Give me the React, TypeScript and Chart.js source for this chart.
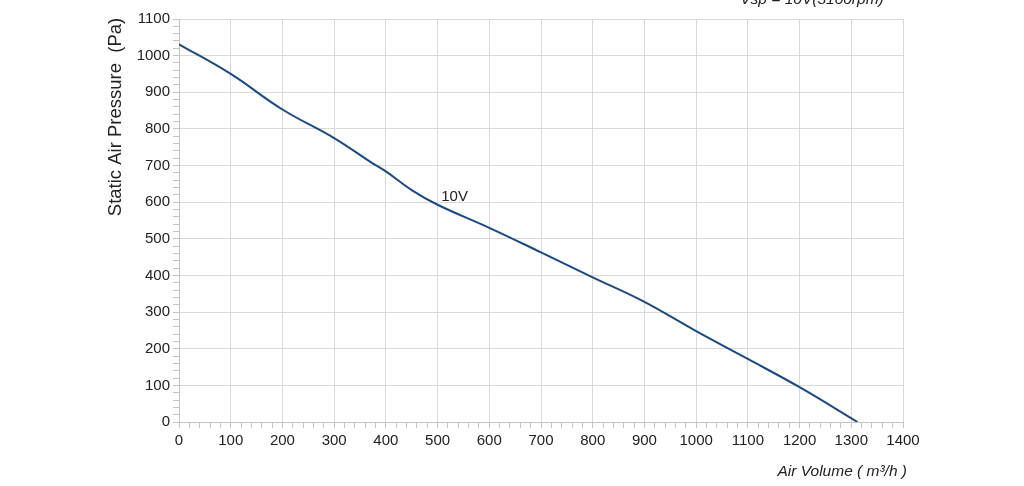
import React, { useEffect, useRef } from "react";
import { Chart, registerables } from "chart.js";

Chart.register(...registerables);

const airVolume = [0, 100, 200, 300, 370, 400, 450, 500, 600, 700, 800, 900, 1000, 1100, 1200, 1312];
const pressure = [1031, 950, 853, 775, 710, 684, 633, 593, 530, 463, 395, 328, 248, 172, 95, 0];
const seriesLabel = "10V";
const topTitle = "Vsp = 10V(3100rpm)";
const xTitle = "Air Volume ( m³/h )";
const yTitle = "Static Air Pressure  (Pa)";

const FONT = "'Liberation Sans', Arial, sans-serif";

export default function App() {
  const ref = useRef<HTMLCanvasElement | null>(null);

  useEffect(() => {
    if (!ref.current) return;
    const textPlugin = {
      id: "texts",
      afterDraw(chart: any) {
        const ctx = chart.ctx;
        const xs = chart.scales.x;
        const ys = chart.scales.y;
        ctx.save();
        ctx.fillStyle = "#222";
        ctx.font = `italic 15.5px ${FONT}`;
        ctx.textAlign = "center";
        ctx.textBaseline = "alphabetic";
        ctx.fillText(topTitle, 812, 4);
        ctx.textAlign = "right";
        ctx.fillText(xTitle, 907, 476);
        ctx.font = `15px ${FONT}`;
        ctx.textAlign = "left";
        ctx.fillText(seriesLabel, xs.getPixelForValue(507), ys.getPixelForValue(604));
        ctx.font = `18.5px ${FONT}`;
        ctx.translate(121, 117);
        ctx.rotate(-Math.PI / 2);
        ctx.textAlign = "center";
        ctx.textBaseline = "alphabetic";
        ctx.fillText(yTitle, 0, 0);
        ctx.restore();
      },
    };

    const gridColor = (c: any) => (Math.round(c.tick?.value ?? 0) % 100 === 0 ? "#d9d9d9" : "rgba(0,0,0,0)");

    const chart = new Chart(ref.current, {
      type: "line",
      data: {
        datasets: [
          {
            label: seriesLabel,
            data: airVolume.map((x, i) => ({ x, y: pressure[i] })),
            borderColor: "#1b4a82",
            borderWidth: 2,
            pointRadius: 0,
            fill: false,
            tension: 0.4,
          },
        ],
      },
      options: {
        animation: false,
        responsive: true,
        maintainAspectRatio: false,
        layout: { padding: { left: 0, top: 19, right: 121, bottom: 0 } },
        plugins: { legend: { display: false }, tooltip: { enabled: false }, title: { display: false } },
        scales: {
          x: {
            type: "linear",
            min: 0,
            max: 1400,
            afterFit(scale: any) {
              scale.height = 64;
            },
            ticks: {
              stepSize: 20,
              autoSkip: false,
              maxRotation: 0,
              padding: 4,
              color: "#222",
              font: { family: FONT, size: 15 },
              callback: (v: any) => (Math.round(v) % 100 === 0 ? String(v) : ""),
            },
            grid: { color: gridColor, tickColor: "#c4c4c4", tickLength: 6, lineWidth: 1 },
            border: { color: "#c4c4c4" },
          },
          y: {
            type: "linear",
            min: 0,
            max: 1100,
            afterFit(scale: any) {
              scale.width = 179;
            },
            ticks: {
              stepSize: 20,
              autoSkip: false,
              padding: 3,
              color: "#222",
              font: { family: FONT, size: 15 },
              callback: (v: any) => (Math.round(v) % 100 === 0 ? String(v) : ""),
            },
            grid: { color: gridColor, tickColor: "#c4c4c4", tickLength: 6, lineWidth: 1 },
            border: { color: "#c4c4c4" },
          },
        },
      },
      plugins: [textPlugin],
    } as any);
    return () => chart.destroy();
  }, []);

  return (
    <div style={{ position: "absolute", left: 0, top: 0, width: 1024, height: 486, background: "#fff" }}>
      <canvas ref={ref} />
    </div>
  );
}
